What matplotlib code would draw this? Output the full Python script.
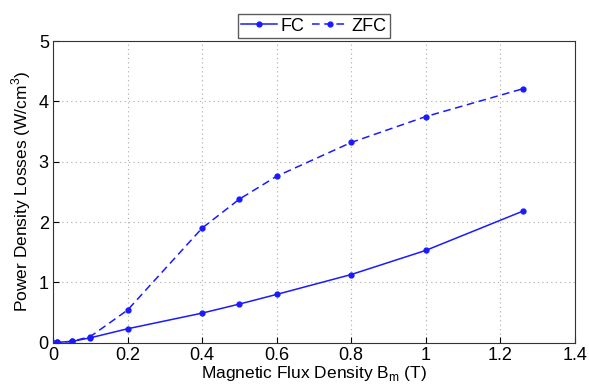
import matplotlib.pyplot as plt

plt.rcParams['font.family'] = ['Liberation Sans', 'DejaVu Sans']

b_fc = [0, 0.01, 0.05, 0.1, 0.2, 0.4, 0.5, 0.6, 0.8, 1.0, 1.26]
p_fc = [0, 0.005, 0.02, 0.08, 0.23, 0.49, 0.64, 0.80, 1.13, 1.53, 2.18]

b_zfc = [0, 0.01, 0.05, 0.1, 0.2, 0.4, 0.5, 0.6, 0.8, 1.0, 1.26]
p_zfc = [0, 0.005, 0.02, 0.10, 0.54, 1.90, 2.38, 2.76, 3.32, 3.75, 4.21]

fig = plt.figure(figsize=(5.89, 3.85), dpi=100)
ax = fig.add_axes([0.09, 0.11, 0.886, 0.783])

ax.plot(b_fc, p_fc, '-', color='#1a1aff', marker='o', markersize=3.5, linewidth=1.1, label='FC')
ax.plot(b_zfc, p_zfc, color='#1a1aff', linestyle=(0, (5, 3)), marker='o', markersize=3.5,
        linewidth=1.1, label='ZFC')

ax.set_xlim(0, 1.4)
ax.set_ylim(0, 5)
ax.set_xticks([0, 0.2, 0.4, 0.6, 0.8, 1, 1.2, 1.4])
ax.set_xticklabels(['0', '0.2', '0.4', '0.6', '0.8', '1', '1.2', '1.4'])
ax.set_yticks([0, 1, 2, 3, 4, 5])
ax.tick_params(labelsize=13, direction='in', length=4, pad=3)
ax.grid(True, linestyle=(0, (1, 3)), color='#aaaaaa', linewidth=0.8)
for s in ax.spines.values():
    s.set_color('#333333')

ax.set_xlabel('Magnetic Flux Density B$_\\mathregular{m}$ (T)', fontsize=12.5, labelpad=0)
ax.set_ylabel('Power Density Losses (W/cm$^\\mathregular{3}$)', fontsize=12.5, labelpad=4)

ax.legend(loc='lower center', bbox_to_anchor=(0.5, 1.01), ncol=2, fontsize=13,
          frameon=True, fancybox=False, edgecolor='#333333', handlelength=2,
          handletextpad=0.2, columnspacing=0.4, borderpad=0.2, borderaxespad=0)

fig.savefig('out.png', dpi=100)
